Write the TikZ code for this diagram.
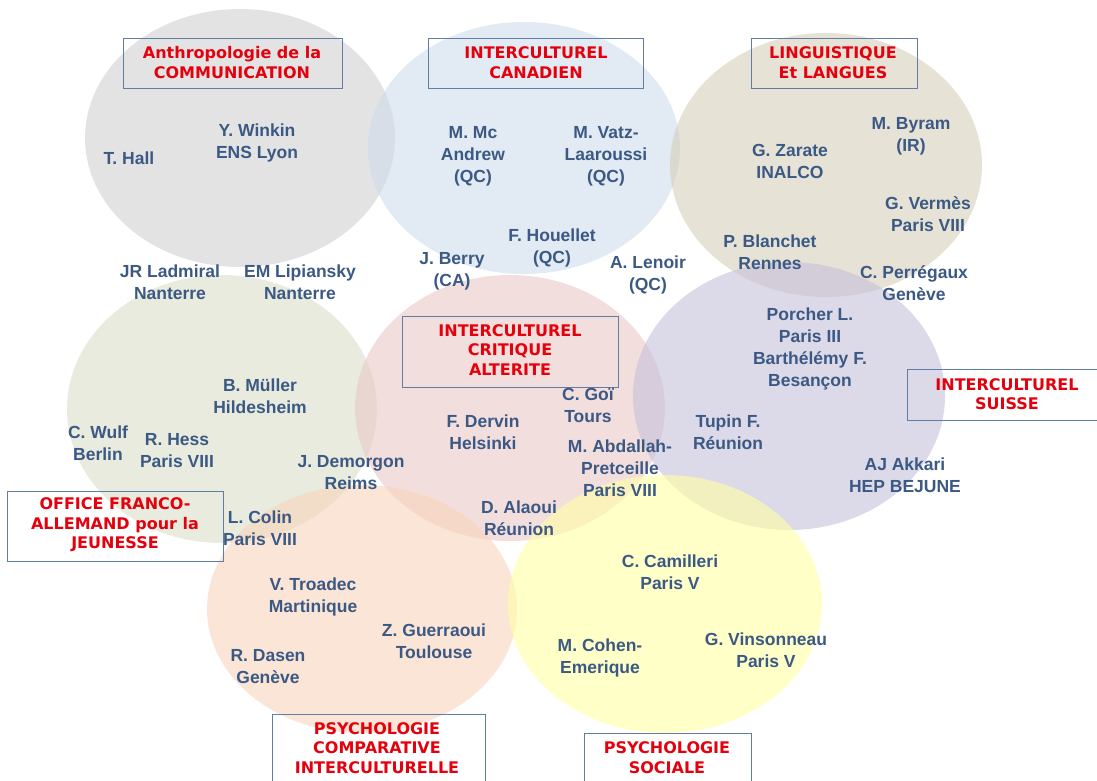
\documentclass[tikz,border=0pt]{standalone}
\usepackage{fontspec}
\setmainfont{Liberation Sans}
\newfontfamily\titlefont{DejaVu Sans}
\definecolor{txtblue}{RGB}{59,89,132}
\definecolor{titlered}{RGB}{228,0,12}
\definecolor{boxblue}{RGB}{95,125,165}
\definecolor{cgray}{RGB}{208,208,208}
\definecolor{cblue}{RGB}{207,220,235}
\definecolor{cbeige}{RGB}{213,207,187}
\definecolor{cgreen}{RGB}{217,222,198}
\definecolor{cpink}{RGB}{235,200,200}
\definecolor{clav}{RGB}{197,193,217}
\definecolor{cpeach}{RGB}{248,212,187}
\definecolor{cyellow}{RGB}{255,255,163}
\begin{document}
\begin{tikzpicture}[x=1pt,y=-1pt,
  person/.style={font=\fontsize{17.5}{22}\selectfont\bfseries, text=txtblue, align=center, inner sep=0pt},
  title/.style={font=\titlefont\fontsize{16}{19.5}\selectfont\bfseries, text=titlered, align=center, inner sep=0pt},
  tbox/.style={draw=boxblue, line width=0.8pt, inner sep=0pt},
  zone/.style={fill opacity=0.6, draw=none}]
\useasboundingbox (0,0) rectangle (1097,780);
% circles
\fill[zone, fill=cgray]   (240,138) ellipse [x radius=155, y radius=129];
\fill[zone, fill=cblue]   (524,148) ellipse [x radius=156, y radius=126];
\fill[zone, fill=cbeige]  (826,165) ellipse [x radius=156, y radius=132];
\fill[zone, fill=cgreen]  (222,409) ellipse [x radius=155, y radius=134];
\fill[zone, fill=cpink]   (510,408) ellipse [x radius=155, y radius=133];
\fill[zone, fill=clav]    (789,396) ellipse [x radius=156, y radius=134];
\fill[zone, fill=cpeach]  (362,609) ellipse [x radius=155, y radius=124];
\fill[zone, fill=cyellow] (665,604) ellipse [x radius=157, y radius=129];
% title boxes
\node[tbox, minimum width=219, minimum height=50] (anthbox) at (232.5,63) {};
\node[title] (anth) at (232,62.5) {Anthropologie de la\\COMMUNICATION};
\node[tbox, minimum width=215, minimum height=50] (canbox) at (535.5,63) {};
\node[title] (can) at (536,62.5) {INTERCULTUREL\\CANADIEN};
\node[tbox, minimum width=166, minimum height=50] (lingbox) at (834,63) {};
\node[title] (ling) at (833,62.5) {LINGUISTIQUE\\Et LANGUES};
\node[tbox, minimum width=216, minimum height=71] (critbox) at (510,351.5) {};
\node[title] (crit) at (510,350) {INTERCULTUREL\\CRITIQUE\\ALTERITE};
\node[tbox, minimum width=190, minimum height=51] (suissebox) at (1002,394.5) {};
\node[title] (suisse) at (1007,394) {INTERCULTUREL\\SUISSE};
\node[tbox, minimum width=216, minimum height=70] (officebox) at (115,526) {};
\node[title] (office) at (115,525) {OFFICE FRANCO-\\ALLEMAND pour la\\JEUNESSE};
\node[tbox, minimum width=213, minimum height=70] (compbox) at (378.5,749) {};
\node[title] (comp) at (377,748) {PSYCHOLOGIE\\COMPARATIVE\\INTERCULTURELLE};
\node[tbox, minimum width=167, minimum height=50] (socbox) at (667.5,758) {};
\node[title] (soc) at (667,757.5) {PSYCHOLOGIE\\SOCIALE};
% people
\node[person] (hall) at (129,158) {T. Hall};
\node[person] (winkin) at (257,143) {Y. Winkin\\ENS Lyon};
\node[person] (ladmiral) at (170,282) {JR Ladmiral\\Nanterre};
\node[person] (lipiansky) at (300,282) {EM Lipiansky\\Nanterre};
\node[person] (mcandrew) at (473,156) {M. Mc\\Andrew\\(QC)};
\node[person] (vatz) at (606,156) {M. Vatz-\\Laaroussi\\(QC)};
\node[person] (houellet) at (552,248) {F. Houellet\\(QC)};
\node[person] (berry) at (452,271) {J. Berry\\(CA)};
\node[person] (lenoir) at (648,275) {A. Lenoir\\(QC)};
\node[person] (zarate) at (790,161) {G. Zarate\\INALCO};
\node[person] (byram) at (911,136) {M. Byram\\(IR)};
\node[person] (vermes) at (928,214) {G. Verm\`es\\Paris VIII};
\node[person] (blanchet) at (770,252) {P. Blanchet\\Rennes};
\node[person] (perregaux) at (914,283) {C. Perr\'egaux\\Gen\`eve};
\node[person] (muller) at (260,396) {B. M\"uller\\Hildesheim};
\node[person] (wulf) at (98,443) {C. Wulf\\Berlin};
\node[person] (hess) at (177,451) {R. Hess\\Paris VIII};
\node[person] (demorgon) at (351,473) {J. Demorgon\\Reims};
\node[person] (colin) at (260,528) {L. Colin\\Paris VIII};
\node[person] (dervin) at (483,432) {F. Dervin\\Helsinki};
\node[person] (goi) at (588,405) {C. Go\"{\i}\\Tours};
\node[person] (abdallah) at (620,468) {M. Abdallah-\\Pretceille\\Paris VIII};
\node[person] (alaoui) at (519,518) {D. Alaoui\\R\'eunion};
\node[person] (porcher) at (810,349) {Porcher L.\\Paris III\\Barth\'el\'emy F.\\Besan\c{c}on};
\node[person] (tupin) at (728,432) {Tupin F.\\R\'eunion};
\node[person] (akkari) at (905,475) {AJ Akkari\\HEP BEJUNE};
\node[person] (troadec) at (313,597) {V. Troadec\\Martinique};
\node[person] (guerraoui) at (434,641) {Z. Guerraoui\\Toulouse};
\node[person] (dasen) at (268,667) {R. Dasen\\Gen\`eve};
\node[person] (camilleri) at (670,572) {C. Camilleri\\Paris V};
\node[person] (cohen) at (600,658) {M. Cohen-\\Emerique};
\node[person] (vinsonneau) at (766,650) {G. Vinsonneau\\Paris V};
\end{tikzpicture}
\end{document}
